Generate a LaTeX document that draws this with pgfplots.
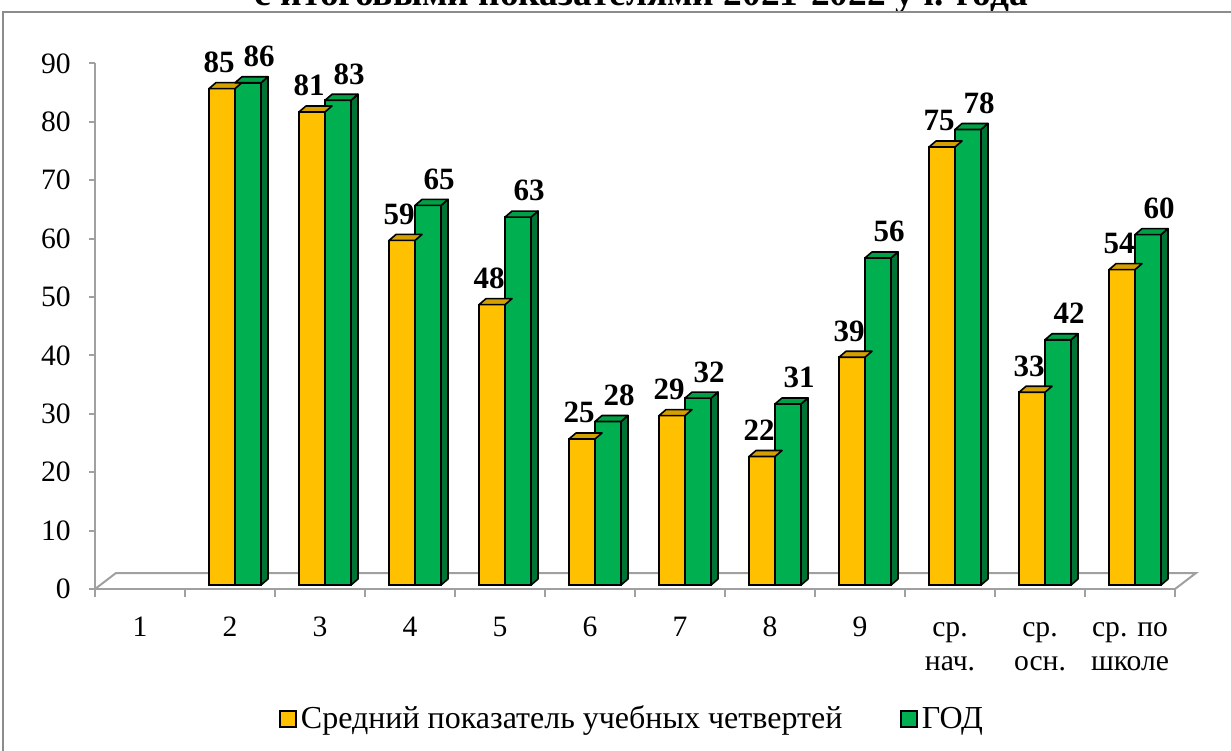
\documentclass[border=0pt]{standalone}
\usepackage{fontspec}
\setmainfont{Liberation Serif}
\usepackage{pgfplots}
\usepackage{pgfplotstable}
\pgfplotsset{compat=1.18}
\definecolor{cY}{HTML}{FFC000}
\definecolor{cYtop}{HTML}{D4A000}
\definecolor{cG}{HTML}{00B050}
\definecolor{cGtop}{HTML}{00A046}
\definecolor{cGside}{HTML}{007434}
\definecolor{axgray}{HTML}{A0A0A0}
\definecolor{framegray}{HTML}{8C8C8C}

\pgfplotstableread{
x q g
2 85 86
3 81 83
4 59 65
5 48 63
6 25 28
7 29 32
8 22 31
9 39 56
10 75 78
11 33 42
12 54 60
}\datatab

\pgfdeclareplotmark{topY}{%
  \filldraw[fill=cYtop, draw=black, line width=0.8bp, line join=round]
    (-13bp,0pt) -- (0pt,0pt) -- (3.5bp,3bp) -- (-9.5bp,3bp) -- cycle;}
\pgfdeclareplotmark{boxG}{%
  \filldraw[fill=cGside, draw=black, line width=0.8bp, line join=round]
    (13bp,0pt) -- (16.5bp,3bp) -- (16.5bp,{3bp-\barh*2.92bp}) -- (13bp,{-\barh*2.92bp}) -- cycle;
  \filldraw[fill=cGtop, draw=black, line width=0.8bp, line join=round]
    (0pt,0pt) -- (13bp,0pt) -- (16.5bp,3bp) -- (3.5bp,3bp) -- cycle;}

\newcommand{\fs}{\fontsize{14.8bp}{17bp}\selectfont}
\newcommand{\fd}{\fontsize{15.5bp}{18bp}\selectfont}
\newcommand{\fl}{\fontsize{16bp}{19bp}\selectfont}

\begin{document}
\begin{tikzpicture}
\useasboundingbox (0,0) rectangle (615.5bp,-375.5bp);
% title (cut off at the top)
\node[anchor=base, inner sep=0pt, font=\bfseries\fontsize{18.7bp}{22bp}\selectfont]
  at (320.75bp,-2.5bp) {с итоговыми показателями 2021-2022 уч. года};
% frame
\draw[framegray, line width=1bp] (1.7bp,-5.9bp) rectangle (640bp,-400bp);

% front axis with ticks and floor
\begin{axis}[
  at={(47.5bp,-294.5bp)}, anchor=south west,
  x=45bp, y=2.92bp, xmin=0.5, xmax=12.5, ymin=0, ymax=90,
  axis x line*=bottom, axis y line*=left,
  axis line style={axgray, line width=1bp},
  tick style={axgray, line width=1bp},
  tick align=outside,
  ytick={0,10,...,90},
  xtick={1,...,12},
  xticklabels={\strut 1,\strut 2,\strut 3,\strut 4,\strut 5,\strut 6,\strut 7,\strut 8,\strut 9,
    {\strut ср.\\нач.},{\strut ср.\\осн.},{\strut ср. по\\школе}},
  minor xtick={0.5,1.5,...,12.5},
  major tick length=3bp,
  minor tick length=4bp,
  major x tick style={draw=none},
  /pgf/number format/assume math mode=true,
  yticklabel style={font=\fs, anchor=east, inner sep=0pt, xshift=-9bp},
  xticklabel style={font=\fs, align=center, anchor=north, inner sep=0pt, yshift=-8.5bp},
  clip=false,
]
\draw[axgray, line width=1bp] (axis cs:0.5,0) -- ++(10.5bp,8bp) -- ++(540bp,0pt) -- (axis cs:12.5,0);
\end{axis}

% bars
\begin{axis}[
  at={(50bp,-292.5bp)}, anchor=south west,
  x=45bp, y=2.92bp, xmin=0.5, xmax=12.5, ymin=0, ymax=90,
  axis lines=none, clip=false,
  /pgf/number format/assume math mode=true,
  every node near coord/.append style={font=\bfseries\fd, anchor=south, inner sep=0pt, yshift=7.5bp, text=black},
  legend columns=2,
  legend style={at={(0.1657,-0.2549)}, anchor=west, draw=none, fill=none, inner sep=0pt,
    font=\fl, /tikz/every even column/.append style={column sep=27bp}},
]
\addplot[ybar, bar width=13bp, bar shift=-6.5bp, fill=cY, draw=black, line width=0.8bp,
  nodes near coords, every node near coord/.append style={xshift=-8bp},
  legend image code/.code={\draw[fill=cY, draw=black, line width=0.8bp] (0bp,-4bp) rectangle (8bp,4bp);}]
  table[x=x,y=q]{\datatab};
\addlegendentry{Средний показатель учебных четвертей}
\addplot[scatter, only marks, mark=topY, forget plot,
  visualization depends on={rawy \as \barh}] table[x=x,y=q]{\datatab};
\addplot[ybar, bar width=13bp, bar shift=6.5bp, fill=cG, draw=black, line width=0.8bp,
  nodes near coords, every node near coord/.append style={xshift=12bp},
  legend image code/.code={\draw[fill=cG, draw=black, line width=0.8bp] (0bp,-4bp) rectangle (8bp,4bp);}]
  table[x=x,y=g]{\datatab};
\addlegendentry{ГОД}
\addplot[scatter, only marks, mark=boxG, forget plot,
  visualization depends on={rawy \as \barh}] table[x=x,y=g]{\datatab};
\end{axis}
\end{tikzpicture}
\end{document}
